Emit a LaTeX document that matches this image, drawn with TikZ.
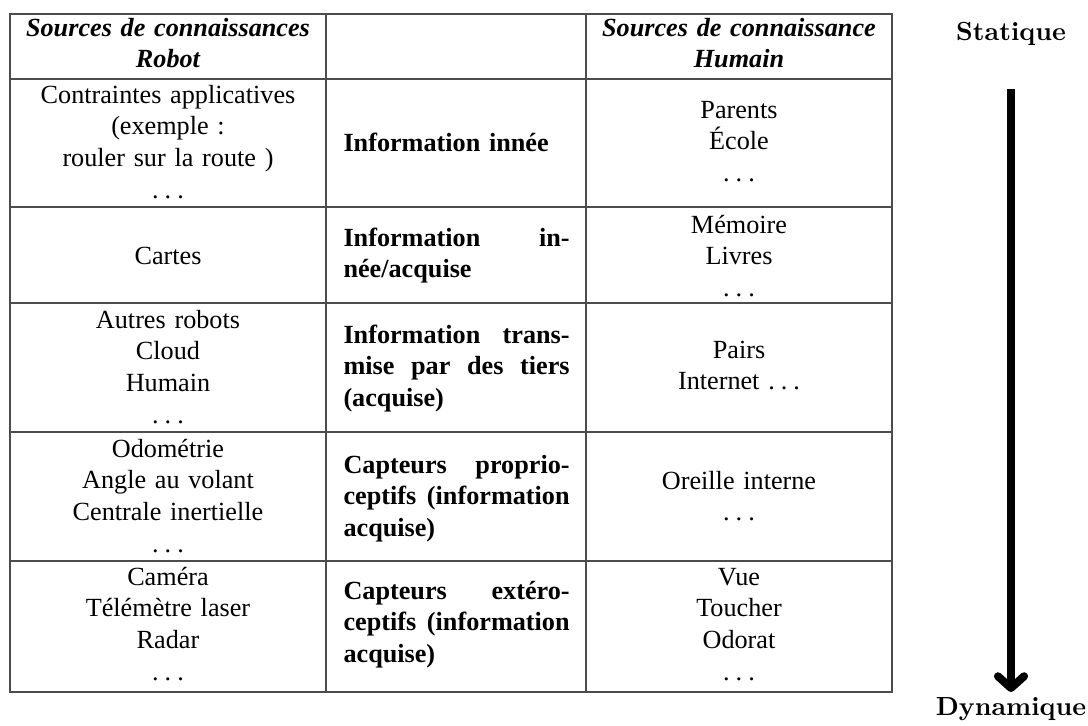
\documentclass[tikz,border=0pt]{standalone}
\usepackage{fontspec}
\newfontfamily\tnr{Liberation Serif}
\usetikzlibrary{arrows.meta}
\tikzset{
  grid/.style={draw=black!70, line width=0.55pt},
  cell/.style={font={\tnr\fontsize{10pt}{12.1pt}\selectfont}, align=center, text width=118pt, anchor=base, inner sep=0pt},
  head/.style={cell, font={\tnr\bfseries\itshape\fontsize{10pt}{12.1pt}\selectfont}},
  mid/.style={font={\tnr\bfseries\fontsize{10pt}{12.1pt}\selectfont}, align=left, text width=86.3pt, anchor=base west, inner sep=0pt},
  axislabel/.style={font={\bfseries\fontsize{10pt}{12pt}\selectfont}, anchor=base, inner sep=0pt},
  bigarrow/.style={line width=3.05pt, -{Straight Barb[length=4.5pt,width=10pt,round]}},
}
\newcommand{\jline}[1]{\leavevmode\hbox to 86.3pt{#1}}
\newcommand{\ldts}{.\kern2.3pt.\kern2.3pt.}
\begin{document}
\begin{tikzpicture}[x=0.3817pt, y=-0.3817pt]
\useasboundingbox (0,0) rectangle (1088,726);
% frame
\draw[grid] (10,14) rectangle (892,692);
\draw[grid] (326,14) -- (326,692);
\draw[grid] (586,14) -- (586,692);
\foreach \yy in {79,207,303,432,561} \draw[grid] (10,\yy) -- (892,\yy);
% header
\node[head] (h1) at (168,36) {Sources de connaissances\\Robot};
\node[head] (h3) at (739,36) {Sources de connaissance\\Humain};
% row 1
\node[cell] (r1a) at (168,103) {Contraintes applicatives\\(exemple :\\rouler sur la route )\\\ldts};
\node[mid] (r1b) at (343,151) {Information innée};
\node[cell] (r1c) at (739,118) {Parents\\École\\\ldts};
% row 2
\node[cell] (r2a) at (168,264) {Cartes};
\node[mid] (r2b) at (343,246) {\jline{Information\hfill in-}\\née/acquise};
\node[cell] (r2c) at (739,233) {Mémoire\\Livres\\\ldts};
% row 3
\node[cell] (r3a) at (168,328) {Autres robots\\Cloud\\Humain\\\ldts};
\node[mid] (r3b) at (343,343) {\jline{Information\hfill trans-}\\\jline{mise\hfill par\hfill des\hfill tiers}\\(acquise)};
\node[cell] (r3c) at (739,358) {Pairs\\Internet \ldts};
% row 4
\node[cell] (r4a) at (168,457) {Odométrie\\Angle au volant\\Centrale inertielle\\\ldts};
\node[mid] (r4b) at (343,473) {\jline{Capteurs\hfill proprio-}\\\jline{ceptifs\hfill (information}\\acquise)};
\node[cell] (r4c) at (739,489) {Oreille interne\\\ldts};
% row 5
\node[cell] (r5a) at (168,585) {Caméra\\Télémètre laser\\Radar\\\ldts};
\node[mid] (r5b) at (343,599) {\jline{Capteurs\hfill extéro-}\\\jline{ceptifs\hfill (information}\\acquise)};
\node[cell] (r5c) at (739,585) {Vue\\Toucher\\Odorat\\\ldts};
% axis
\node[axislabel] (stat) at (1011,40) {Statique};
\node[axislabel] (dyn) at (1011,715) {Dynamique};
\coordinate (atop) at (1011,89);
\coordinate (atip) at (1011,692);
\draw[bigarrow] (atop) -- (atip);
\end{tikzpicture}
\end{document}
